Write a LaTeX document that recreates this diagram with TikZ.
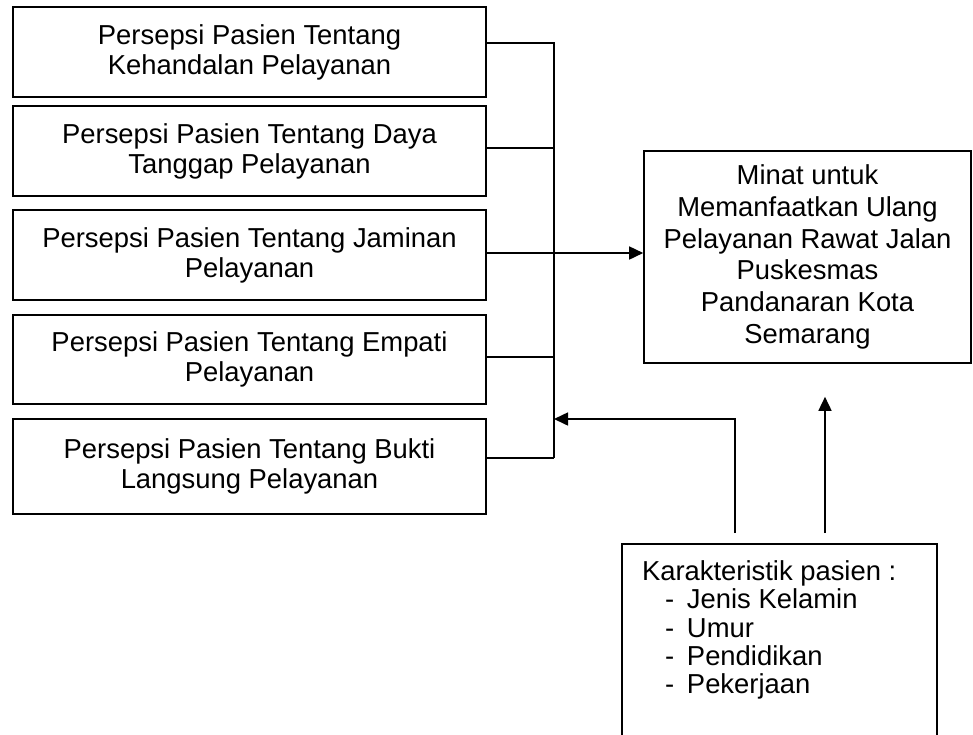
\documentclass[tikz,border=0pt]{standalone}
\usepackage{fontspec}
\setmainfont{Liberation Sans}
\usetikzlibrary{arrows.meta,positioning}
\tikzset{
  fc_var/.style={rectangle,draw=black,line width=1.6pt,
    minimum width=473pt,minimum height=90pt,
    align=center,inner sep=0pt,
    font=\fontsize{27.4}{30}\selectfont},
  fc_out/.style={rectangle,draw=black,line width=1.6pt,
    minimum width=327pt,minimum height=212pt,
    align=center,inner sep=0pt,
    font=\fontsize{27.4}{31.7}\selectfont},
  fc_char/.style={rectangle,draw=black,line width=1.6pt,
    inner xsep=20pt,inner ysep=17pt,
    font=\fontsize{27.4}{28.3}\selectfont},
  bus/.style={line width=1.6pt},
  arr/.style={-{Triangle[length=14pt,width=13pt]},line width=1.6pt},
}
\newcommand{\itm}[1]{\hspace*{23pt}\makebox[22pt][l]{-}#1}

\begin{document}
\begin{tikzpicture}[x=1pt,y=-1pt]
  \useasboundingbox (0,0) rectangle (973,734);
  \clip (0,0) rectangle (973,734);

  \node (k1) [fc_var] at (249.5,52)
    {Persepsi Pasien Tentang\\Kehandalan Pelayanan};
  \node (k2) [fc_var, below=7.4pt of k1]
    {Persepsi Pasien Tentang Daya\\Tanggap Pelayanan};
  \node (k3) [fc_var, below=12.4pt of k2]
    {Persepsi Pasien Tentang Jaminan\\Pelayanan};
  \node (k4) [fc_var, minimum height=89pt, below=13.4pt of k3]
    {Persepsi Pasien Tentang Empati\\Pelayanan};
  \node (k5) [fc_var, minimum height=95pt, below=13.4pt of k4]
    {Persepsi Pasien Tentang Bukti\\Langsung Pelayanan};

  \node (minat) [fc_out] at (807.5,257)
    {Minat untuk\\Memanfaatkan Ulang\\Pelayanan Rawat Jalan\\
     Puskesmas\\Pandanaran Kota\\Semarang};

  \node (kar) [fc_char, anchor=north] at (779.5,543)
    {\parbox[t][200pt][t]{275pt}{Karakteristik pasien :\\
     \itm{Jenis Kelamin}\\
     \itm{Umur}\\
     \itm{Pendidikan}\\
     \itm{Pekerjaan}}};

  % collecting line
  \coordinate (b1) at (554,43);
  \coordinate (b2) at (554,148);
  \coordinate (b3) at (554,253);
  \coordinate (b4) at (554,357);
  \coordinate (b5) at (554,458);
  \coordinate (b6) at (554,419);

  \draw[bus] (k1.east |- b1) -- (b1) -- (b5);
  \draw[bus] (k2.east |- b2) -- (b2);
  \draw[arr] (k3.east |- b3) -- (b3 -| minat.west);
  \draw[bus] (k4.east |- b4) -- (b4);
  \draw[bus] (k5.east |- b5) -- (b5);

  \draw[arr,shorten <=10pt] ([xshift=-44.5pt]kar.north) |- (b6);
  \draw[arr,shorten <=10pt,shorten >=33pt]
    ([xshift=45.5pt]kar.north) -- ([xshift=45.5pt]kar.north |- minat.south);
\end{tikzpicture}
\end{document}
